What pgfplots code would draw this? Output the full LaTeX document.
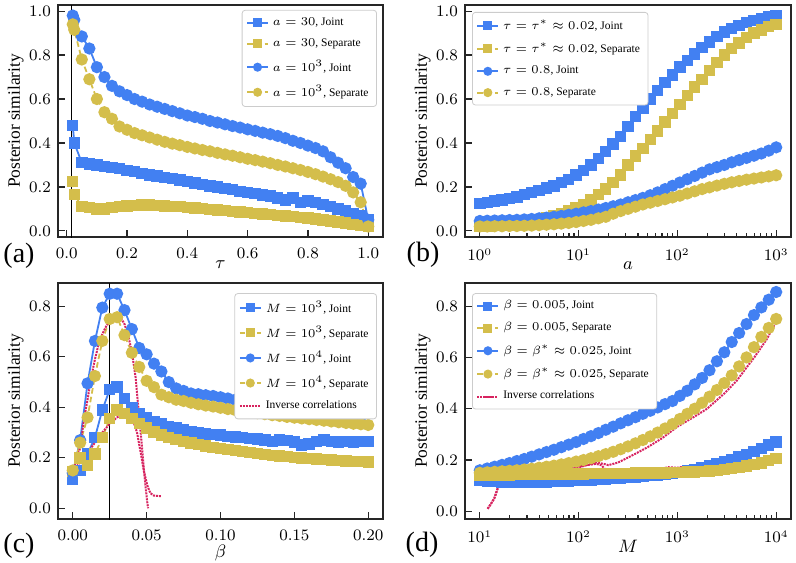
\documentclass[border=0pt]{standalone}
\usepackage{fontspec}
\setmainfont{Liberation Serif}
\usepackage{pgfplots}
\usepackage{pgfplotstable}
\pgfplotsset{compat=1.18}

\definecolor{cblue}{RGB}{66,128,242}
\definecolor{cyel}{RGB}{212,190,75}
\definecolor{cred}{RGB}{215,35,95}

% panel (a): tau, a=30 (squares), a=10^3 (circles)
\pgfplotstableread{
t sj ss cj cs
0.02 0.48 0.225 0.98 0.94
0.025 0.40 0.165 0.96 0.915
0.05 0.31 0.11 0.885 0.78
0.075 0.305 0.105 0.83 0.69
0.1 0.30 0.10 0.745 0.60
0.125 0.293 0.10 0.70 0.54
0.15 0.287 0.105 0.66 0.51
0.175 0.283 0.11 0.635 0.475
0.2 0.275 0.113 0.618 0.46
0.225 0.27 0.115 0.60 0.445
0.25 0.262 0.117 0.588 0.435
0.275 0.255 0.117 0.575 0.425
0.3 0.25 0.116 0.565 0.415
0.325 0.243 0.114 0.555 0.405
0.35 0.237 0.112 0.545 0.397
0.375 0.232 0.11 0.535 0.39
0.4 0.225 0.107 0.525 0.382
0.425 0.218 0.104 0.518 0.375
0.45 0.212 0.101 0.51 0.368
0.475 0.205 0.098 0.50 0.362
0.5 0.20 0.095 0.493 0.355
0.525 0.193 0.092 0.485 0.348
0.55 0.187 0.089 0.477 0.342
0.575 0.18 0.086 0.47 0.335
0.6 0.175 0.083 0.462 0.328
0.625 0.17 0.08 0.455 0.322
0.65 0.163 0.077 0.447 0.315
0.675 0.158 0.074 0.44 0.308
0.7 0.15 0.071 0.432 0.30
0.725 0.14 0.068 0.422 0.293
0.75 0.15 0.065 0.41 0.285
0.775 0.13 0.062 0.40 0.277
0.8 0.135 0.058 0.388 0.268
0.825 0.13 0.054 0.377 0.258
0.85 0.12 0.05 0.362 0.247
0.875 0.11 0.045 0.335 0.235
0.9 0.10 0.04 0.31 0.222
0.925 0.09 0.035 0.285 0.205
0.95 0.08 0.03 0.245 0.175
0.975 0.07 0.025 0.215 0.13
1.0 0.05 0.02 0.05 0.02
}\tabA

% panel (b): a, tau*=0.02 (squares), tau=0.8 (circles)
\pgfplotstableread{
a sj ss cj cs
1 0.125 0.02 0.045 0.02
1.1885 0.13 0.022 0.046 0.02
1.4125 0.135 0.025 0.047 0.021
1.6788 0.14 0.028 0.048 0.021
1.9953 0.148 0.032 0.049 0.022
2.3714 0.155 0.036 0.05 0.022
2.8184 0.165 0.04 0.052 0.023
3.3497 0.175 0.046 0.054 0.024
3.9811 0.185 0.052 0.057 0.026
4.7315 0.195 0.06 0.06 0.028
5.6234 0.205 0.068 0.064 0.03
6.6834 0.22 0.078 0.068 0.033
7.9433 0.235 0.09 0.073 0.036
9.4406 0.255 0.105 0.078 0.04
11.220 0.275 0.12 0.084 0.045
13.335 0.30 0.14 0.09 0.05
15.849 0.33 0.165 0.097 0.057
18.836 0.36 0.19 0.104 0.064
22.387 0.395 0.22 0.112 0.078
26.607 0.43 0.255 0.12 0.09
31.623 0.475 0.30 0.13 0.10
37.584 0.52 0.34 0.14 0.11
44.668 0.56 0.375 0.15 0.12
53.088 0.60 0.415 0.162 0.128
63.096 0.64 0.455 0.175 0.136
74.989 0.675 0.495 0.19 0.144
89.125 0.71 0.535 0.205 0.152
105.93 0.745 0.575 0.22 0.16
125.89 0.775 0.615 0.235 0.17
149.62 0.805 0.655 0.25 0.18
177.83 0.835 0.69 0.265 0.19
211.35 0.86 0.73 0.28 0.198
251.19 0.885 0.765 0.29 0.206
298.54 0.905 0.80 0.30 0.214
354.81 0.92 0.83 0.312 0.221
421.70 0.935 0.855 0.322 0.227
501.19 0.948 0.88 0.332 0.233
595.66 0.958 0.90 0.342 0.238
707.95 0.966 0.915 0.352 0.243
841.40 0.973 0.93 0.365 0.248
1000 0.98 0.94 0.38 0.253
}\tabB

% panel (c): beta, M=10^3 (squares), M=10^4 (circles)
\pgfplotstableread{
b sj ss cj cs
0 0.115 0.145 0.14 0.15
0.005 0.15 0.20 0.27 0.26
0.01 0.215 0.17 0.495 0.36
0.015 0.28 0.215 0.663 0.524
0.02 0.39 0.28 0.795 0.663
0.025 0.47 0.355 0.85 0.75
0.03 0.48 0.39 0.85 0.757
0.035 0.435 0.375 0.785 0.686
0.04 0.40 0.355 0.71 0.616
0.045 0.375 0.335 0.635 0.56
0.05 0.36 0.318 0.61 0.505
0.055 0.345 0.303 0.573 0.48
0.06 0.335 0.29 0.542 0.45
0.065 0.325 0.28 0.50 0.44
0.07 0.318 0.272 0.475 0.43
0.075 0.31 0.265 0.465 0.425
0.08 0.303 0.258 0.455 0.418
0.085 0.298 0.252 0.452 0.412
0.09 0.295 0.246 0.448 0.407
0.095 0.292 0.241 0.445 0.403
0.1 0.29 0.236 0.44 0.398
0.105 0.285 0.232 0.435 0.393
0.11 0.282 0.228 0.43 0.389
0.115 0.28 0.224 0.427 0.385
0.12 0.277 0.22 0.423 0.381
0.125 0.275 0.217 0.42 0.377
0.13 0.27 0.213 0.417 0.373
0.135 0.265 0.21 0.413 0.369
0.14 0.27 0.207 0.41 0.366
0.145 0.268 0.204 0.407 0.362
0.15 0.262 0.202 0.404 0.359
0.155 0.25 0.2 0.401 0.356
0.16 0.255 0.197 0.398 0.353
0.165 0.265 0.195 0.395 0.35
0.17 0.27 0.193 0.392 0.347
0.175 0.265 0.191 0.389 0.344
0.18 0.262 0.189 0.386 0.341
0.185 0.265 0.187 0.383 0.338
0.19 0.263 0.186 0.375 0.335
0.195 0.265 0.185 0.365 0.333
0.2 0.265 0.184 0.378 0.33
}\tabC

% panel (d): M, beta=0.005 (squares), beta*=0.025 (circles)
\pgfplotstableread{
M sj ss cj cs
10 0.12 0.14 0.16 0.15
11.885 0.118 0.141 0.167 0.152
14.125 0.116 0.141 0.174 0.154
16.788 0.115 0.142 0.181 0.156
19.953 0.115 0.142 0.188 0.158
23.714 0.114 0.143 0.196 0.16
28.184 0.114 0.143 0.204 0.163
33.497 0.114 0.144 0.213 0.166
39.811 0.115 0.144 0.222 0.17
47.315 0.115 0.145 0.231 0.174
56.234 0.116 0.145 0.24 0.178
66.834 0.117 0.145 0.25 0.183
79.433 0.118 0.146 0.26 0.188
94.406 0.119 0.146 0.27 0.194
112.20 0.12 0.146 0.282 0.2
133.35 0.122 0.147 0.293 0.207
158.49 0.123 0.147 0.305 0.215
188.36 0.125 0.147 0.318 0.223
223.87 0.127 0.148 0.33 0.232
266.07 0.129 0.148 0.343 0.242
316.23 0.131 0.148 0.355 0.253
375.84 0.133 0.149 0.367 0.265
446.68 0.136 0.149 0.38 0.278
530.88 0.139 0.15 0.392 0.292
630.96 0.142 0.15 0.405 0.307
749.89 0.145 0.15 0.418 0.323
891.25 0.148 0.151 0.43 0.34
1059.3 0.152 0.152 0.45 0.36
1258.9 0.157 0.153 0.47 0.38
1496.2 0.163 0.154 0.495 0.40
1778.3 0.17 0.155 0.52 0.423
2113.5 0.177 0.157 0.55 0.447
2511.9 0.185 0.16 0.585 0.473
2985.4 0.193 0.163 0.62 0.5
3548.1 0.202 0.167 0.66 0.53
4217.0 0.212 0.171 0.695 0.565
5011.9 0.222 0.176 0.73 0.6
5956.6 0.233 0.182 0.765 0.64
7079.5 0.245 0.189 0.795 0.68
8414.0 0.258 0.197 0.825 0.715
10000 0.27 0.205 0.855 0.75
}\tabD

\pgfplotsset{
  panel/.style={
    scale only axis, clip=true,
    tick align=inside, tick pos=left,
    major tick length=3.5pt, minor tick length=2pt,
    axis line style={line width=0.75pt, black!85},
    every tick/.style={black!85, line width=0.6pt},
    tick label style={font=\fontsize{7.8}{9}\selectfont},
    xticklabel style={inner sep=1pt},
    xticklabel shift=4.6pt,
    label style={font=\fontsize{8.7}{10}\selectfont},
    ylabel={Posterior similarity},
    legend cell align=left,
    legend style={font=\fontsize{5.75}{6.9}\selectfont, draw=black!20, line width=0.4pt,
      rounded corners=1.5pt, fill=white, inner xsep=2pt, inner ysep=1.5pt, row sep=1.3pt},
    legend image code/.code={\draw[mark repeat=2,mark phase=2,mark size=1.8pt]
      plot coordinates {(0pt,0pt) (5.25pt,0pt) (10.5pt,0pt)};},
  },
  sjoint/.style={cblue, line width=0.9pt, mark=square*, mark size=2.4pt, mark options={solid}},
  ssep/.style={cyel, line width=0.9pt, dash pattern=on 2.8pt off 1.6pt, mark=square*, mark size=2.4pt, mark options={solid}},
  cjoint/.style={cblue, line width=0.9pt, mark=*, mark size=2.6pt, mark options={solid}},
  csep/.style={cyel, line width=0.9pt, dash pattern=on 2.8pt off 1.6pt, mark=*, mark size=2.6pt, mark options={solid}},
  invc/.style={cred, line width=1pt, dash pattern=on 1pt off 0.5pt, no markers},
}

\begin{document}
\begin{tikzpicture}
\useasboundingbox (0,0) rectangle (398pt,-281pt);

% (a)
\begin{axis}[panel, at={(29pt,-118.5pt)}, anchor=south west, width=162.5pt, height=116pt,
  xmin=-0.029, xmax=1.049, ymin=-0.028, ymax=1.028,
  xtick={0,0.2,0.4,0.6,0.8,1.0}, ytick={0,0.2,0.4,0.6,0.8,1.0},
  xticklabel style={/pgf/number format/.cd,fixed,fixed zerofill,precision=1},
  yticklabel style={/pgf/number format/.cd,fixed,fixed zerofill,precision=1},
  xlabel={$\tau$},
  xlabel style={at={(axis description cs:0.5,-0.136)}, anchor=base, inner sep=0pt},
  ylabel style={at={(axis description cs:-0.13,0.5)}, anchor=center},
  legend style={at={(axis description cs:0.9815,0.979)}, anchor=north east}]
\addplot[black, line width=0.7pt, forget plot] coordinates {(0.015,-0.1) (0.015,1.1)};
\addplot[sjoint] table[x=t,y=sj] {\tabA};
\addlegendentry{$a=30$, Joint}
\addplot[ssep] table[x=t,y=ss] {\tabA};
\addlegendentry{$a=30$, Separate}
\addplot[cjoint] table[x=t,y=cj] {\tabA};
\addlegendentry{$a=10^3$, Joint}
\addplot[csep] table[x=t,y=cs] {\tabA};
\addlegendentry{$a=10^3$, Separate}
\end{axis}

% (b)
\begin{semilogxaxis}[panel, at={(232.5pt,-118.5pt)}, anchor=south west, width=163pt, height=116pt,
  xmin=0.708, xmax=1413, ymin=-0.028, ymax=1.028,
  xtick={1,10,100,1000}, ytick={0,0.2,0.4,0.6,0.8,1.0},
  yticklabel style={/pgf/number format/.cd,fixed,fixed zerofill,precision=1},
  xlabel={$a$},
  xlabel style={at={(axis description cs:0.5,-0.14)}, anchor=base, inner sep=0pt},
  ylabel style={at={(axis description cs:-0.13,0.5)}, anchor=center},
  legend style={at={(axis description cs:0.0215,0.97)}, anchor=north west}]
\addplot[sjoint] table[x=a,y=sj] {\tabB};
\addlegendentry{$\tau=\tau^{*}\approx0.02$, Joint}
\addplot[ssep] table[x=a,y=ss] {\tabB};
\addlegendentry{$\tau=\tau^{*}\approx0.02$, Separate}
\addplot[cjoint] table[x=a,y=cj] {\tabB};
\addlegendentry{$\tau=0.8$, Joint}
\addplot[csep] table[x=a,y=cs] {\tabB};
\addlegendentry{$\tau=0.8$, Separate}
\end{semilogxaxis}

% (c)
\begin{axis}[panel, at={(29pt,-259.5pt)}, anchor=south west, width=162.5pt, height=118pt,
  xmin=-0.01, xmax=0.21, ymin=-0.0425, ymax=0.8925,
  xtick={0,0.05,0.1,0.15,0.2}, ytick={0,0.2,0.4,0.6,0.8},
  xticklabel style={/pgf/number format/.cd,fixed,fixed zerofill,precision=2},
  yticklabel style={/pgf/number format/.cd,fixed,fixed zerofill,precision=1},
  scaled x ticks=false,
  xlabel={$\beta$},
  xlabel style={at={(axis description cs:0.5,-0.162)}, anchor=base, inner sep=0pt},
  ylabel style={at={(axis description cs:-0.13,0.5)}, anchor=center},
  legend style={at={(axis description cs:0.9815,0.957)}, anchor=north east}]
\addplot[black, line width=0.7pt, forget plot] coordinates {(0.025,-0.1) (0.025,1.0)};
\addplot[sjoint] table[x=b,y=sj] {\tabC};
\addlegendentry{$M=10^3$, Joint}
\addplot[ssep] table[x=b,y=ss] {\tabC};
\addlegendentry{$M=10^3$, Separate}
\addplot[cjoint] table[x=b,y=cj] {\tabC};
\addlegendentry{$M=10^4$, Joint}
\addplot[csep] table[x=b,y=cs] {\tabC};
\addlegendentry{$M=10^4$, Separate}
\addplot[invc] coordinates {(0,0.15) (0.0025,0.19) (0.005,0.24) (0.0075,0.35) (0.01,0.43)
  (0.0125,0.52) (0.015,0.59) (0.0175,0.65) (0.02,0.69) (0.0225,0.72) (0.025,0.74)
  (0.0275,0.755) (0.03,0.76) (0.0325,0.755) (0.035,0.73) (0.0375,0.685) (0.04,0.62)
  (0.0425,0.52) (0.045,0.36) (0.0475,0.2) (0.049,0.1) (0.0505,0.02) (0.051,0.0)};
\addlegendentry{Inverse correlations}
\addplot[invc, forget plot] coordinates {(0,0.15) (0.005,0.18) (0.01,0.22) (0.015,0.26)
  (0.02,0.30) (0.025,0.335) (0.03,0.36) (0.0335,0.373) (0.036,0.377) (0.0385,0.368)
  (0.041,0.345) (0.0435,0.30) (0.046,0.22) (0.048,0.15) (0.0505,0.09) (0.0525,0.06)
  (0.055,0.05) (0.06,0.048)};
\end{axis}

% (d)
\begin{semilogxaxis}[panel, at={(232.5pt,-259.5pt)}, anchor=south west, width=163pt, height=118pt,
  xmin=7.08, xmax=14125, ymin=-0.03, ymax=0.89,
  xtick={10,100,1000,10000}, ytick={0,0.2,0.4,0.6,0.8},
  yticklabel style={/pgf/number format/.cd,fixed,fixed zerofill,precision=1},
  xlabel={$M$},
  xlabel style={at={(axis description cs:0.5,-0.14)}, anchor=base, inner sep=0pt},
  ylabel style={at={(axis description cs:-0.13,0.5)}, anchor=center},
  legend style={at={(axis description cs:0.0215,0.957)}, anchor=north west}]
\addplot[sjoint] table[x=M,y=sj] {\tabD};
\addlegendentry{$\beta=0.005$, Joint}
\addplot[ssep] table[x=M,y=ss] {\tabD};
\addlegendentry{$\beta=0.005$, Separate}
\addplot[cjoint] table[x=M,y=cj] {\tabD};
\addlegendentry{$\beta=\beta^{*}\approx0.025$, Joint}
\addplot[csep] table[x=M,y=cs] {\tabD};
\addlegendentry{$\beta=\beta^{*}\approx0.025$, Separate}
\addplot[invc] coordinates {(12,0.01) (13,0.03) (14,0.05) (15.5,0.1) (17,0.155) (20,0.165)
  (25,0.16) (30,0.165) (40,0.16) (50,0.165) (60,0.155) (70,0.165) (80,0.17) (100,0.175)
  (120,0.18) (150,0.19) (180,0.185) (200,0.18) (250,0.19) (300,0.205) (400,0.23) (500,0.25)
  (700,0.285) (1000,0.33) (1500,0.37) (2000,0.40) (3000,0.46) (4000,0.51) (5000,0.56)
  (6000,0.6) (8000,0.67) (10000,0.74)};
\addlegendentry{Inverse correlations}
\addplot[invc, forget plot] coordinates {(12,0.01) (13,0.03) (14,0.05) (15.5,0.1) (17,0.15)
  (18,0.14) (20,0.14) (25,0.16) (30,0.155) (40,0.16) (50,0.15) (60,0.145) (70,0.155)
  (80,0.165) (100,0.17) (120,0.18) (150,0.185) (170,0.18) (200,0.15) (250,0.153) (300,0.156)
  (400,0.158) (500,0.16) (700,0.166) (800,0.172) (1000,0.17) (1500,0.18) (2000,0.187)
  (3000,0.2) (5000,0.22) (7000,0.24) (10000,0.262)};
\end{semilogxaxis}

\node[font=\fontsize{14}{16}\selectfont] at (9.5pt,-128pt) {(a)};
\node[font=\fontsize{14}{16}\selectfont] at (211.5pt,-127.5pt) {(b)};
\node[font=\fontsize{14}{16}\selectfont] at (9.5pt,-273pt) {(c)};
\node[font=\fontsize{14}{16}\selectfont] at (211pt,-272.5pt) {(d)};
\end{tikzpicture}
\end{document}
